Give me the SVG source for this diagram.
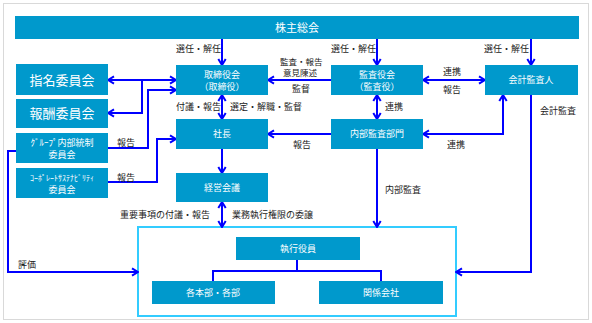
<svg xmlns="http://www.w3.org/2000/svg" width="592" height="323" viewBox="0 0 592 323">
<style>
.box{fill:#0099cc}
.bt{fill:#ffffff;font-family:"Noto Sans CJK JP","Noto Sans",sans-serif;font-size:9px;text-anchor:middle}
.bl{fill:#ffffff;font-family:"Noto Sans CJK JP","Noto Sans",sans-serif;font-size:13px;text-anchor:middle}
.lb{fill:#222222;font-family:"Noto Sans CJK JP","Noto Sans",sans-serif;font-size:9px}
.ln{fill:none;stroke:#0000ff;stroke-width:2}
.a{marker-end:url(#ah)}
.d{marker-start:url(#ah);marker-end:url(#ah)}
</style>
<defs>
<marker id="ah" viewBox="0 0 10 10" refX="9" refY="5" markerWidth="10" markerHeight="10" markerUnits="userSpaceOnUse" orient="auto-start-reverse">
<path d="M3,1.3 L9,5 L3,8.7" fill="none" stroke="#0000ff" stroke-width="2"/>
</marker>
</defs>
<rect x="0" y="0" width="592" height="323" fill="#ffffff"/>
<rect x="3.5" y="3.5" width="585" height="316" fill="#ffffff" stroke="#d9d9d9" stroke-width="1"/>

<g id="frame">
<rect x="138" y="227" width="318" height="89" fill="none" stroke="#33ccff" stroke-width="2"/>
</g>

<g id="connectors">
<line class="ln a" x1="222" y1="39" x2="222" y2="65"/>
<line class="ln a" x1="377" y1="39" x2="377" y2="65"/>
<line class="ln a" x1="531" y1="39" x2="531" y2="65"/>
<line class="ln d" x1="423" y1="80" x2="485" y2="80"/>
<line class="ln a" x1="331" y1="80" x2="268" y2="80"/>
<line class="ln d" x1="108" y1="80" x2="176" y2="80"/>
<polyline class="ln a" points="142,80 142,113 108,113"/>
<polyline class="ln a" points="108,148 148,148 148,90 176,90"/>
<polyline class="ln a" points="108,182 157,182 157,139 176,139"/>
<line class="ln d" x1="222" y1="95" x2="222" y2="119"/>
<line class="ln a" x1="222" y1="149" x2="222" y2="173"/>
<line class="ln d" x1="222" y1="202" x2="222" y2="227"/>
<line class="ln d" x1="377" y1="95" x2="377" y2="119"/>
<line class="ln a" x1="331" y1="134" x2="268" y2="134"/>
<line class="ln a" x1="377" y1="149" x2="377" y2="227"/>
<polyline class="ln d" points="423,134 503,134 503,95"/>
<polyline class="ln a" points="531,95 531,272 456,272"/>
<polyline class="ln a" points="16,151 8,151 8,272 138,272"/>
<polyline class="ln" points="297,260 297,271 213,271 213,281"/>
<polyline class="ln" points="297,271 381,271 381,281"/>
</g>

<g id="labels">
<text class="lb" x="176" y="52">選任・解任</text>
<text class="lb" x="331" y="52">選任・解任</text>
<text class="lb" x="484" y="52">選任・解任</text>
<text class="lb" x="280" y="65" style="font-size:8.5px">監査・報告</text>
<text class="lb" x="283" y="76" style="font-size:8.5px">意見陳述</text>
<text class="lb" x="292" y="92">監督</text>
<text class="lb" x="443" y="75">連携</text>
<text class="lb" x="443" y="93">報告</text>
<text class="lb" x="176" y="110">付議・報告</text>
<text class="lb" x="230" y="110">選定・解職・監督</text>
<text class="lb" x="385" y="110">連携</text>
<text class="lb" x="540" y="114">会計監査</text>
<text class="lb" x="117" y="146">報告</text>
<text class="lb" x="117" y="181">報告</text>
<text class="lb" x="293" y="148">報告</text>
<text class="lb" x="447" y="148">連携</text>
<text class="lb" x="385" y="193">内部監査</text>
<text class="lb" x="210" y="218" text-anchor="end">重要事項の付議・報告</text>
<text class="lb" x="232" y="218">業務執行権限の委譲</text>
<text class="lb" x="18" y="268">評価</text>
</g>

<g id="n-shareholders"><rect class="box" x="15" y="16" width="564" height="23"/><text class="bt" x="297" y="31.5" style="font-size:11px">株主総会</text></g>
<g id="n-board"><rect class="box" x="176" y="65" width="92" height="30"/><text class="bt" x="222" y="78">取締役会</text><text class="bt" x="222" y="90">（取締役）</text></g>
<g id="n-kansayakukai"><rect class="box" x="331" y="65" width="92" height="30"/><text class="bt" x="377" y="78">監査役会</text><text class="bt" x="377" y="90">（監査役）</text></g>
<g id="n-auditor"><rect class="box" x="485" y="65" width="93" height="30"/><text class="bt" x="531" y="83">会計監査人</text></g>
<g id="n-nomination"><rect class="box" x="16" y="64" width="92" height="31"/><text class="bl" x="62" y="84.5">指名委員会</text></g>
<g id="n-remuneration"><rect class="box" x="16" y="99" width="92" height="29"/><text class="bl" x="62" y="118">報酬委員会</text></g>
<g id="n-group"><rect class="box" x="16" y="133" width="92" height="30"/><text class="bt" x="62" y="146">ｸﾞﾙｰﾌﾟ内部統制</text><text class="bt" x="62" y="158">委員会</text></g>
<g id="n-sustain"><rect class="box" x="16" y="168" width="92" height="30"/><text class="bt" x="62" y="181" style="font-size:8px">ｺｰﾎﾟﾚｰﾄｻｽﾃﾅﾋﾞﾘﾃｨ</text><text class="bt" x="62" y="193">委員会</text></g>
<g id="n-president"><rect class="box" x="176" y="119" width="92" height="30"/><text class="bt" x="222" y="137">社長</text></g>
<g id="n-internal-audit"><rect class="box" x="331" y="119" width="92" height="30"/><text class="bt" x="377" y="137">内部監査部門</text></g>
<g id="n-mgmt"><rect class="box" x="176" y="173" width="92" height="29"/><text class="bt" x="222" y="190.5">経営会議</text></g>
<g id="n-officers"><rect class="box" x="236" y="237" width="124" height="23"/><text class="bt" x="298" y="251.5">執行役員</text></g>
<g id="n-divisions"><rect class="box" x="152" y="281" width="123" height="23"/><text class="bt" x="213" y="295.5">各本部・各部</text></g>
<g id="n-affiliates"><rect class="box" x="319" y="281" width="124" height="23"/><text class="bt" x="381" y="295.5">関係会社</text></g>
</svg>
